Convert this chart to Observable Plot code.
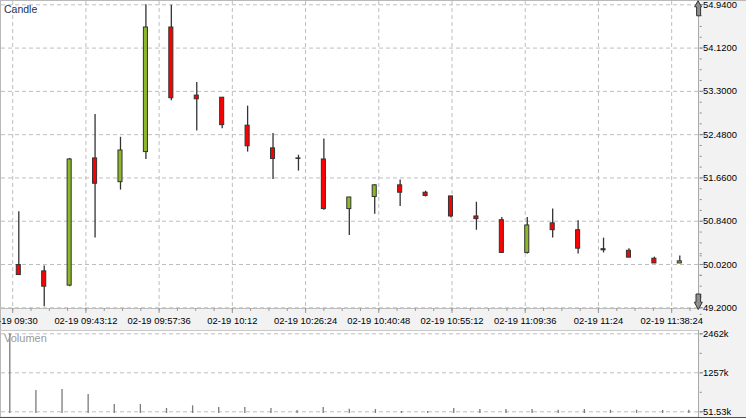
<!DOCTYPE html>
<html><head><meta charset="utf-8">
<script src="https://cdn.jsdelivr.net/npm/d3@7"></script>
<script src="https://cdn.jsdelivr.net/npm/@observablehq/plot@0.6"></script>
<style>
html,body{margin:0;padding:0;background:#f2f2f2;}
#wrap{position:relative;width:746px;height:418px;overflow:hidden;background:#f2f2f2;font-family:"Liberation Sans",Arial,sans-serif;}
.bx{position:absolute;}
#wrap > svg, #wrap > figure{position:absolute;left:0;margin:0;}
.lbl{position:absolute;white-space:nowrap;line-height:1;}
</style></head><body><div id="wrap"></div>
<script>
// ---- data ----
const times = ["09:30","09:35","09:40","09:45","09:50","09:55","10:00","10:05","10:10","10:15","10:20","10:25","10:30","10:35","10:40","10:45","10:50","10:55","11:00","11:05","11:10","11:15","11:20","11:25","11:30","11:35","11:40"];
const open  = [50.01,49.89,49.62,52.03,51.58,52.15,54.51,53.22,53.18,52.65,52.22,52.03,52.01,51.07,51.30,51.52,51.38,51.31,50.93,50.86,50.24,50.80,50.67,50.31,50.28,50.13,50.04];
const high  = [51.02,49.99,52.03,52.86,52.43,54.94,54.93,53.47,53.18,53.02,52.50,52.09,52.40,51.29,51.53,51.62,51.41,51.31,51.20,50.91,50.91,51.07,50.85,50.52,50.32,50.16,50.18];
const low   = [49.82,49.22,49.60,50.52,51.43,52.01,53.12,52.55,52.59,52.15,51.63,51.79,51.05,50.57,50.97,51.12,51.30,50.90,50.67,50.23,50.22,50.52,50.22,50.24,50.15,50.04,50.04];
const close = [49.82,49.60,52.01,51.55,52.18,54.51,53.17,53.15,52.66,52.26,52.02,52.02,51.07,51.29,51.52,51.38,51.32,50.93,50.88,50.24,50.76,50.67,50.32,50.29,50.15,50.04,50.08];
const volumeK = [2462,710,740,586,277,277,154,237,185,185,153,92,184,132,123,61,61,154,123,123,123,100,123,100,100,92,100];

const xTickTimes  = ["09:28:48","09:43:12","09:57:36","10:12:00","10:26:24","10:40:48","10:55:12","11:09:36","11:24:00","11:38:24"];
const xTickLabels = ["02-19 09:30","02-19 09:43:12","02-19 09:57:36","02-19 10:12","02-19 10:26:24","02-19 10:40:48","02-19 10:55:12","02-19 11:09:36","02-19 11:24","02-19 11:38:24"];
const priceTicks = [49.20,50.02,50.84,51.66,52.48,53.30,54.12,54.94];
const volTicks = [51.53,1256.8,2462];
const volTickLabels = ["51.53k","1257k","2462k"];

// ---- helpers ----
const toMin = s => { const [h,m,sec=0] = s.split(":").map(Number); return h*60+m+sec/60; };
const candles = times.map((t,i)=>({t:toMin(t),open:open[i],high:high[i],low:low[i],close:close[i]}));
const vols = times.map((t,i)=>({t:toMin(t),v:volumeK[i]}));
const xTicks = xTickTimes.map(toMin);
const xLabelMap = new Map(xTicks.map((t,i)=>[t,xTickLabels[i]]));
const xMinor = d3.range(0,38).map(k=>xTicks[0]+k*3.6);
const priceMinor = d3.range(0,29).map(k=>49.20+k*0.205);
const volMinor = d3.range(0,9).map(k=>51.53+k*(2462-51.53)/4);
const volLabelMap = new Map(volTicks.map((t,i)=>[t,volTickLabels[i]]));

const GREEN="#8db82a", RED="#ff0000", EDGE="#333333", GRID="#bebebe";
const wrap = document.getElementById("wrap");

function box(l,t,w,h,bg){const d=document.createElement("div");d.className="bx";d.style.cssText=`left:${l}px;top:${t}px;width:${w}px;height:${h}px;background:${bg}`;wrap.appendChild(d);}
// backgrounds / frame
box(1,1,697.5,307,"#ffffff");
box(1,331,697.5,85,"#ffffff");
box(0,0,746,1,"#b9b9b9");
box(0,0,1,418,"#b9b9b9");
box(0,308,698.5,1,"#bdbdbd");
box(0,330,698.5,1,"#c8c8c8");
box(698,0,1,309,"#a8a8a8");
box(698,330,1,87,"#a8a8a8");
box(0,417,746,1,"#505050");

const fontStyle = {background:"transparent",fontFamily:"'Liberation Sans',Arial,sans-serif",fontSize:"9.4px",color:"#000",overflow:"visible"};

const main = Plot.plot({
  width:746, height:330,
  marginLeft:1, marginRight:47.3, marginTop:1, marginBottom:22,
  x:{domain:[570,700], range:[18.3,679.3], axis:null},
  y:{domain:[49.2,54.94], range:[307.3,4.3], axis:null},
  style:fontStyle,
  marks:[
    Plot.gridY(priceTicks,{stroke:GRID,strokeOpacity:1,strokeDasharray:"4,3"}),
    Plot.gridX(xTicks,{stroke:GRID,strokeOpacity:1,strokeDasharray:"4,3"}),
    Plot.axisX(xMinor,{tickSize:3,text:null,stroke:"#9a9a9a",label:null}),
    Plot.axisX(xTicks,{tickSize:5,text:null,stroke:"#9a9a9a",label:null}),
    Plot.axisX(xTicks,{tickSize:0,tickPadding:9,fill:"#000",label:null,tickFormat:d=>xLabelMap.get(d)}),
    Plot.axisY(priceMinor,{anchor:"right",tickSize:2,text:null,stroke:"#8a8a8a",label:null}),
    Plot.axisY(priceTicks,{anchor:"right",tickSize:3.3,tickPadding:0.5,stroke:"#8a8a8a",fill:"#000",label:null,tickFormat:d=>d.toFixed(4)}),
    Plot.ruleX(candles,{x:"t",y1:"low",y2:"high",stroke:EDGE,strokeWidth:1.3}),
    Plot.rect(candles,{x1:d=>d.t-0.4,x2:d=>d.t+0.4,y1:"open",y2:"close",fill:d=>d.close>=d.open?GREEN:RED,stroke:EDGE,strokeWidth:1})
  ]
});
main.style.top="0px";
wrap.appendChild(main);

const vol = Plot.plot({
  width:746, height:96,
  marginLeft:1, marginRight:47.3, marginTop:9, marginBottom:2,
  x:{domain:[570,700], range:[9.3,688.3], axis:null},
  y:{domain:[51.53,2462], range:[89.3,11.3], axis:null},
  style:fontStyle,
  marks:[
    Plot.gridY(volTicks,{stroke:GRID,strokeOpacity:1,strokeDasharray:"4,3"}),
    Plot.axisY(volMinor,{anchor:"right",tickSize:2,text:null,stroke:"#8a8a8a",label:null}),
    Plot.axisY(volTicks,{anchor:"right",tickSize:3.3,tickPadding:0.5,stroke:"#8a8a8a",fill:"#000",label:null,tickFormat:d=>volLabelMap.get(d)}),
    Plot.ruleX(vols,{x:"t",y1:0,y2:"v",stroke:"#7a7a7a",strokeWidth:1.3})
  ]
});
vol.style.top="322px";
wrap.appendChild(vol);

// titles
function label(txt,l,t,size,color){const d=document.createElement("div");d.className="lbl";d.textContent=txt;d.style.cssText+=`left:${l}px;top:${t}px;font-size:${size}px;color:${color}`;wrap.appendChild(d);}
label("Candle",4,4,10.5,"#24324f");
label("Volumen",4,333,11,"#9a9a9a");

// scroll arrows (decoration)
const ar=document.createElementNS("http://www.w3.org/2000/svg","svg");
ar.setAttribute("width","746");ar.setAttribute("height","418");
ar.style.cssText="position:absolute;left:0;top:0;pointer-events:none";
ar.innerHTML=`<path d="M698,0.8 L701.6,6.8 L700.6,6.8 L700.6,15.8 L696.6,15.8 L696.6,6.8 L694.6,6.8 Z" fill="#8e8e8e" stroke="#333" stroke-width="1"/>
<path d="M698.3,309.5 L702.3,302.2 L700.6,302.2 L700.6,294 L696,294 L696,302.2 L694.3,302.2 Z" fill="#8e8e8e" stroke="#333" stroke-width="1"/>`;
wrap.appendChild(ar);
</script></body></html>
